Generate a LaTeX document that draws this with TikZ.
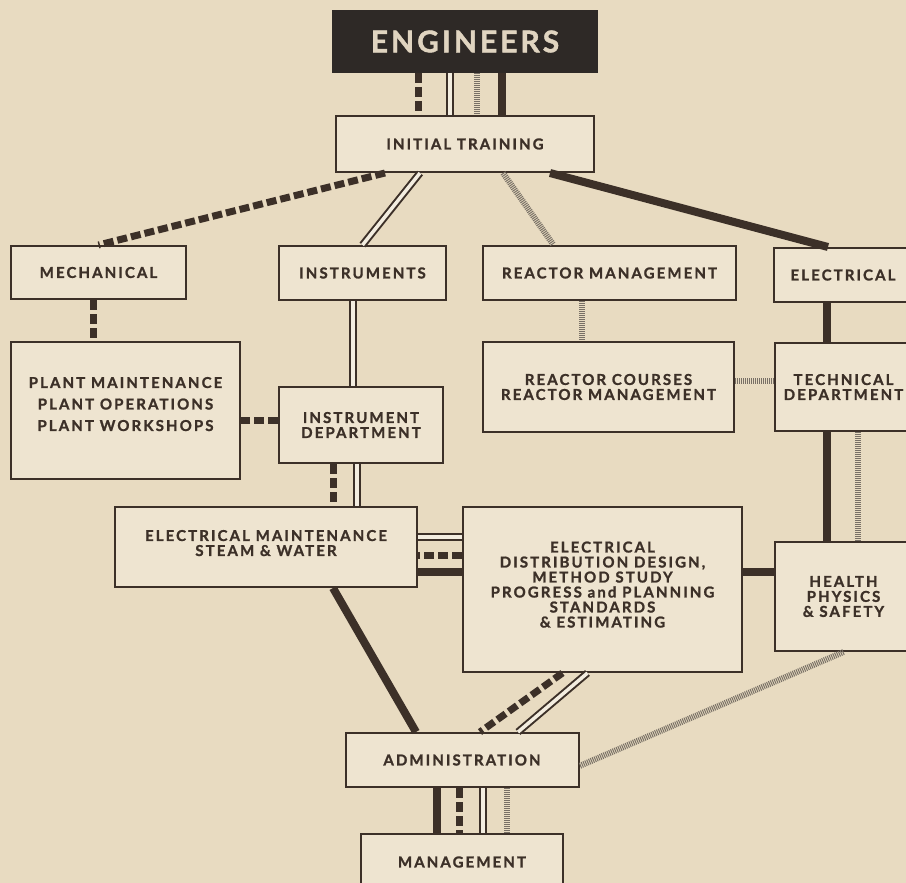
\documentclass[tikz,border=0pt]{standalone}
\usepackage{fontspec}
\setmainfont{Lato}
\usepackage{tikz}
\definecolor{paper}{RGB}{232,219,193}
\definecolor{boxfill}{RGB}{238,228,208}
\definecolor{ink}{RGB}{60,48,40}
\definecolor{engfill}{RGB}{46,41,38}
\definecolor{engtext}{RGB}{224,212,192}
\definecolor{hatchgray}{RGB}{120,112,102}
\newfontfamily\boxfont{Lato}[LetterSpace=14, FakeBold=1.3]
\tikzset{
  block/.style={rectangle, draw=ink, line width=2pt, fill=boxfill, align=center,
    text=ink, inner sep=0pt, font=\boxfont\bfseries\fontsize{15}{15}\selectfont},
  topblock/.style={block, fill=engfill, draw=engfill, text=engtext,
    font=\boxfont\bfseries\fontsize{30}{32}\selectfont\addfontfeature{LetterSpace=10}},
  dashlink/.style={line width=7pt, color=ink, dash pattern=on 10pt off 4pt},
  doublelink/.style={line width=2pt, draw=ink, double=paper!50!white, double distance=3.5pt},
  hatchlink/.style={line width=6pt, color=hatchgray, dash pattern=on 1pt off 1pt},
  solidlink/.style={line width=8pt, color=ink},
}
\begin{document}
\begin{tikzpicture}[x=1pt, y=-1pt]
  \fill[paper] (0,0) rectangle (906,883);
  \useasboundingbox (0,0) rectangle (906,883);
  % boxes
  \node[topblock, minimum width=264pt, minimum height=61pt] (eng) at (465,41.5) {ENGINEERS};
  \node[block, minimum width=258pt, minimum height=56pt] (init) at (465,144) {INITIAL TRAINING};
  \node[block, minimum width=175pt, minimum height=53pt] (mech) at (98.5,272.5) {MECHANICAL};
  \node[block, minimum width=167pt, minimum height=54pt] (instr) at (362.5,273) {INSTRUMENTS};
  \node[block, minimum width=253pt, minimum height=54pt] (reactor) at (609.5,273) {REACTOR MANAGEMENT};
  \node[block, minimum width=138pt, minimum height=54pt] (elec) at (843,275) {ELECTRICAL};
  \node[block, minimum width=229pt, minimum height=137pt,
        font=\boxfont\bfseries\fontsize{15}{21.5}\selectfont]
    (plant) at (125.5,410.5) {PLANT MAINTENANCE\\PLANT OPERATIONS\\PLANT WORKSHOPS\\[-8.5pt]};
  \node[block, minimum width=164pt, minimum height=76pt] (instdept) at (361,425) {INSTRUMENT\\DEPARTMENT};
  \node[block, minimum width=251pt, minimum height=90pt] (courses) at (608.5,387) {REACTOR COURSES\\REACTOR MANAGEMENT};
  \node[block, minimum width=137pt, minimum height=88pt] (techdept) at (843.5,387) {TECHNICAL\\DEPARTMENT};
  \node[block, minimum width=302pt, minimum height=80pt] (elmaint) at (266,547) {ELECTRICAL MAINTENANCE\\STEAM \& WATER\\[-7pt]};
  \node[block, minimum width=279pt, minimum height=165pt] (eldist) at (602.5,589.5)
    {ELECTRICAL\\DISTRIBUTION DESIGN,\\METHOD STUDY\\PROGRESS and PLANNING\\STANDARDS\\\& ESTIMATING\\[-5pt]};
  \node[block, minimum width=137pt, minimum height=109pt] (health) at (843.5,596.5) {HEALTH\\PHYSICS\\\& SAFETY};
  \node[block, minimum width=233pt, minimum height=54pt] (admin) at (462,760) {ADMINISTRATION};
  \node[block, minimum width=202pt, minimum height=56pt] (mgmt) at (462,862) {MANAGEMENT};

  % engineers and management bundles
  \foreach \dx/\kind in {-47/dashlink, -15/doublelink, 12/hatchlink, 37/solidlink}
    \draw[\kind] ([xshift=\dx]eng.south) -- ([xshift=\dx]init.north);
  \foreach \dx/\kind in {-25/solidlink, -3/dashlink, 21/doublelink, 45/hatchlink}
    \draw[\kind] ([xshift=\dx]admin.south) -- ([xshift=\dx]mgmt.north);

  % vertical links
  \foreach \from/\to/\dx/\kind/\cname in {mech/plant/-5.5/dashlink/v1,
      instr/instdept/-9.5/doublelink/v2, reactor/courses/-27.5/hatchlink/v3,
      elec/techdept/-16/solidlink/v4, instdept/elmaint/-28/dashlink/v5,
      instdept/elmaint/-4/doublelink/v6, techdept/health/-16.5/solidlink/v7,
      techdept/health/14.5/hatchlink/v8}{
    \coordinate (\cname) at ([xshift=\dx]\from.south);
    \draw[\kind] (\cname) -- (\cname |- \to.north);
  }

  % horizontal links
  \foreach \left/\right/\dy/\kind/\cname in {plant/instdept/5/dashlink/h1,
      courses/techdept/6/hatchlink/h2, elmaint/eldist/52.5/doublelink/h3,
      elmaint/eldist/34.5/dashlink/h4, elmaint/eldist/17.5/solidlink/h5,
      eldist/health/24.5/solidlink/h6}{
    \coordinate (\cname) at ([yshift=\dy]\right.west);
    \draw[\kind] (\cname) -- (\cname -| \left.east);
  }

  % diagonal links
  \draw[dashlink] ([xshift=-80]init.south) -- (mech.north);
  \draw[doublelink] ([xshift=-45]init.south) -- (instr.north);
  \draw[hatchlink] ([xshift=38]init.south) -- ([xshift=-56]reactor.north);
  \draw[solidlink] ([xshift=85]init.south) -- ([xshift=-15]elec.north);
  \draw[solidlink] ([xshift=67]elmaint.south) -- ([xshift=-46]admin.north);
  \draw[dashlink] ([xshift=-40]eldist.south) -- ([xshift=18]admin.north);
  \draw[doublelink] ([xshift=-15]eldist.south) -- ([xshift=56]admin.north);
  \draw[hatchlink] (health.south) -- ([yshift=-6]admin.east);
\end{tikzpicture}
\end{document}
